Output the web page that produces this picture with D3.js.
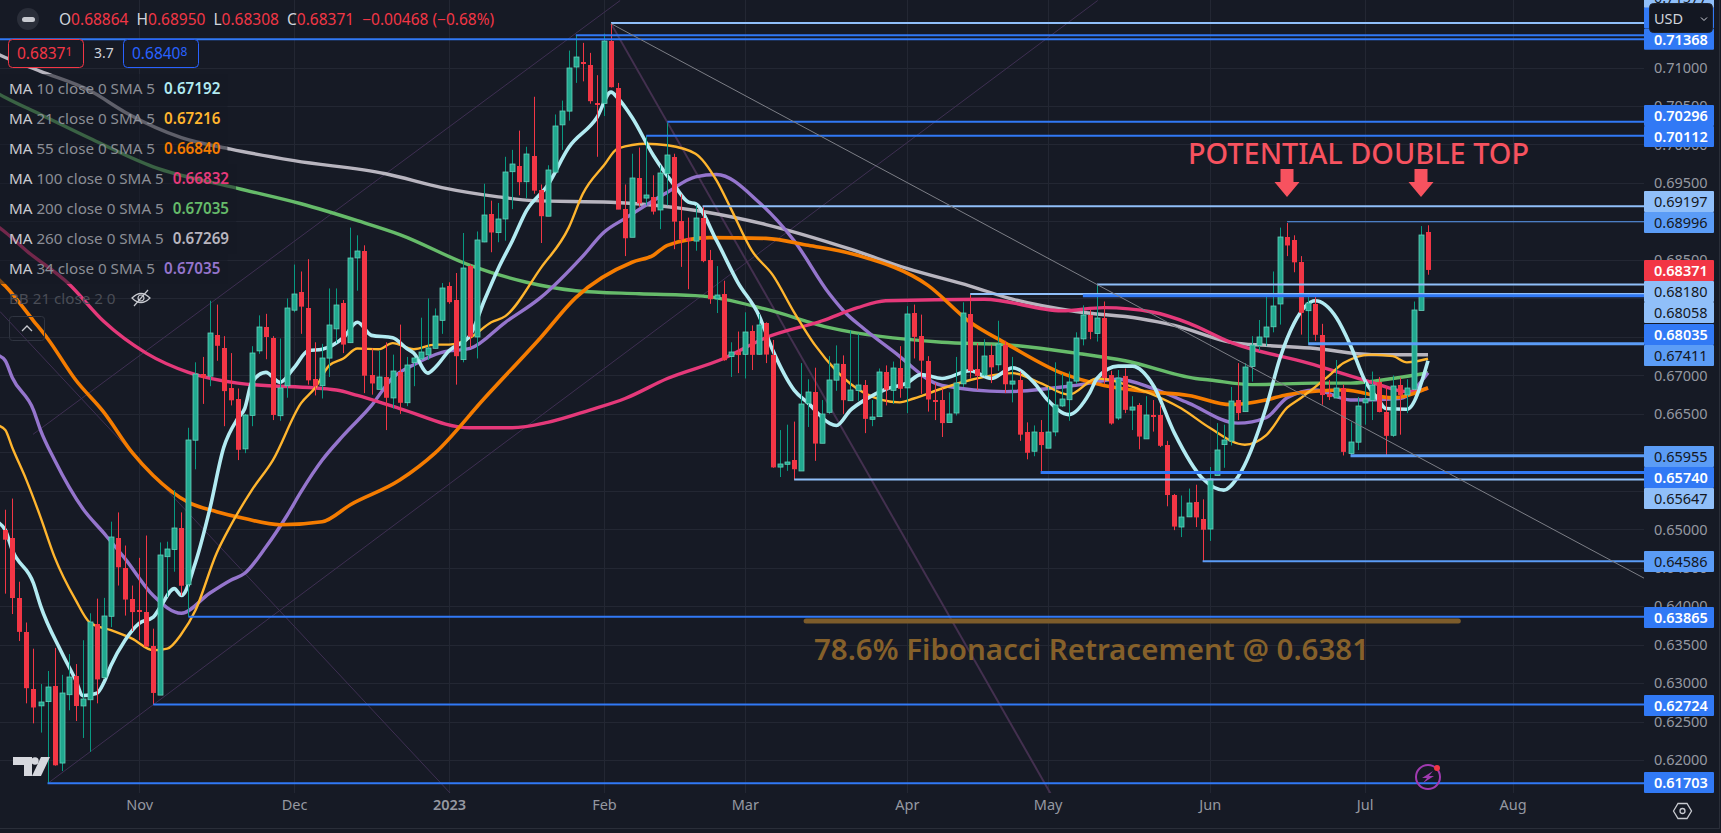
<!DOCTYPE html>
<html>
<head>
<meta charset="utf-8">
<script src="https://cdn.jsdelivr.net/npm/d3@7"></script>
<style>
    html, body { margin: 0; padding: 0; background: #161a25; overflow: hidden; }
    svg { display: block; font-family: "Noto Sans", "Open Sans", sans-serif; }
</style>
</head>
<body>
<svg id="viz1" width="1721" height="833"></svg>
<script>
// daily candles, index 0 = first visible session, index 202 = Jul 14
const candleOpen = [.64996,.6489,.6411,.6367,.6293,.6271,.6276,.6296,.6196,.6285,.6310,.6271,.6279,.6377,.6307,.6387,.6489,.6450,.6410,.6395,.6393,.6348,.6285,.6465,.6474,.6502,.6428,.6616,.6702,.6699,.6752,.6736,.6683,.6670,.6604,.6648,.6732,.6763,.6748,.6648,.6686,.6785,.6809,.6788,.6695,.6686,.6723,.6761,.6794,.6743,.6853,.6861,.6700,.6682,.6698,.6671,.6705,.6664,.6716,.6721,.6726,.6735,.6771,.6816,.6798,.6721,.6842,.6750,.6874,.6910,.68853,.6903,.6965,.6972,.6951,.6985,.6941,.6907,.6964,.7026,.7044,.7100,.7107,.7103,.7054,.7053,.7134,.7074,.6916,.6880,.6957,.6930,.6932,.6915,.6962,.6984,.6901,.6878,.6875,.6905,.6850,.6800,.6806,.6724,.6730,.6727,.6758,.6728,.6768,.6726,.6581,.6584,.6590,.6576,.6663,.6679,.6612,.6652,.6694,.6715,.66675,.6680,.6687,.6643,.6647,.6704,.6681,.6710,.6684,.6781,.6751,.6719,.6668,.6668,.6639,.6651,.6689,.6780,.6708,.6700,.6726,.6714,.6740,.6689,.6694,.6626,.6602,.6626,.6606,.6626,.6661,.6669,.6692,.6748,.6779,.6754,.6775,.6701,.6645,.6699,.6655,.6661,.6618,.6649,.6648,.6609,.6544,.6503,.6516,.6535,.6514,.6501,.6570,.6610,.6615,.6668,.6653,.6711,.6739,.6750,.6763,.6793,.6880,.6876,.6847,.6784,.6793,.6753,.6676,.6671,.6683,.6598,.6613,.6664,.6668,.6691,.6653,.6622,.6687,.6674,.6682,.6785,.68864];
const candleHigh = [.65255,.6540,.6432,.6379,.6345,.6299,.6316,.6346,.6311,.6338,.6325,.6356,.6391,.6410,.6411,.6510,.6522,.6479,.6427,.6463,.6492,.6371,.6483,.6484,.6551,.6522,.6632,.6717,.6724,.6797,.6792,.6751,.6729,.6683,.6650,.6738,.6778,.6780,.6751,.6748,.6800,.6844,.6835,.6851,.6743,.6741,.6813,.6813,.6798,.6892,.6882,.6869,.6735,.6732,.6743,.6727,.6766,.6724,.6724,.6775,.6800,.6787,.6820,.6821,.6833,.6885,.6844,.6887,.6949,.6927,.6924,.6984,.6993,.7018,.6997,.7062,.6948,.6973,.7039,.7057,.7122,.7142,.7132,.7119,.7090,.7144,.7158,.7080,.6948,.6988,.6996,.7011,.6960,.6973,.7028,.6988,.6935,.6905,.6921,.6919,.6863,.6842,.6823,.6743,.6757,.6782,.6765,.6780,.6769,.6746,.6629,.6636,.6640,.6716,.6695,.6710,.6668,.6725,.6739,.6726,.67584,.6754,.6694,.6668,.6709,.6713,.6718,.6738,.6790,.6792,.6779,.6725,.6690,.6683,.6678,.6724,.6795,.6805,.6742,.6747,.6740,.6771,.6745,.6724,.6705,.6639,.6635,.6642,.6685,.6717,.6702,.6705,.6756,.6791,.6785,.6817,.6796,.6706,.6707,.6709,.6673,.6664,.6673,.6668,.6661,.6615,.6546,.6544,.6553,.6558,.6539,.6581,.6638,.6636,.6685,.6716,.6716,.6751,.6772,.6807,.6835,.6892,.6898,.6882,.6855,.6804,.6805,.6767,.6694,.6720,.6688,.6639,.6672,.6691,.6705,.6698,.6685,.6700,.6697,.6695,.6796,.6894,.68950];
const candleLow = [.64165,.6390,.6355,.6274,.6248,.6236,.61703,.6193,.6186,.6265,.6251,.6229,.6211,.6274,.6306,.6373,.6427,.6388,.6368,.6356,.6348,.62724,.6285,.6412,.6445,.6414,.63865,.6578,.6663,.6686,.6719,.6634,.6661,.6590,.6599,.6634,.6728,.6721,.6642,.6641,.6671,.6782,.6754,.6688,.6674,.6670,.6698,.6742,.6729,.6742,.6810,.6677,.6675,.6682,.6629,.6657,.6650,.6660,.6686,.6720,.6720,.6735,.6754,.6793,.6688,.6717,.6736,.6722,.6873,.6860,.6873,.6875,.6916,.6934,.6930,.6936,.6872,.6907,.6964,.6993,.7031,.7080,.7082,.7053,.6984,.7037,.7074,.6916,.6855,.6880,.6919,.6921,.6909,.6890,.6921,.6864,.6841,.6812,.6862,.6847,.6793,.6781,.6719,.6698,.6703,.6696,.6707,.6727,.6716,.6580,.6568,.6576,.65647,.6576,.6633,.6589,.6612,.6650,.6680,.6650,.6667,.6667,.6625,.6634,.6647,.6661,.6663,.6671,.6651,.6722,.6676,.6653,.6642,.6620,.6639,.6648,.6685,.6696,.6681,.6699,.6690,.6706,.6677,.6665,.6615,.6591,.6595,.6574,.6606,.6621,.6659,.6641,.6689,.6739,.6747,.6744,.6689,.6636,.6642,.6651,.6629,.6604,.6618,.6627,.6607,.6530,.6499,.6490,.6516,.6503,.64586,.6485,.6570,.6580,.6609,.6642,.6653,.6692,.6732,.6738,.6756,.6766,.6855,.6834,.6753,.6740,.6745,.6662,.6668,.6671,.6596,.6594,.6603,.6636,.6642,.6652,.65955,.6620,.6623,.6651,.6681,.6785,.68308];
const candleClose = [.6487,.6411,.6367,.6294,.6269,.6276,.6295,.6193,.6287,.6308,.6271,.6280,.6380,.6305,.6387,.6490,.6451,.6409,.6393,.6394,.6348,.6287,.6467,.6475,.6502,.6427,.6616,.6702,.6697,.6755,.6738,.6680,.6667,.6604,.6648,.6729,.6763,.6750,.6648,.6684,.6787,.6806,.6790,.6694,.6686,.6722,.6766,.6792,.6740,.6853,.6862,.6699,.6689,.6698,.6671,.6706,.6665,.6713,.6722,.6730,.6735,.6777,.6813,.6795,.6725,.6840,.6750,.6876,.6909,.6886,.6903,.6964,.6975,.6951,.6987,.6940,.6907,.6967,.7024,.7044,.7100,.7113,.7106,.7056,.7053,.7134,.7074,.6916,.6878,.6957,.6924,.6934,.6913,.6963,.6986,.6900,.6877,.6874,.6905,.6849,.6799,.6805,.6720,.6730,.6726,.6756,.6727,.6766,.6727,.6580,.6585,.6587,.6578,.6663,.6678,.6612,.6650,.6694,.6715,.6668,.66814,.6687,.6643,.6646,.6705,.6681,.6710,.6683,.6780,.6750,.6719,.6669,.6667,.6638,.6650,.6690,.6781,.6706,.6699,.6725,.6710,.6741,.6689,.6693,.6623,.6599,.6627,.6609,.6627,.6661,.6670,.6692,.6748,.6779,.6757,.6774,.6697,.6638,.6697,.6655,.6659,.6620,.6649,.6648,.6608,.6544,.6503,.6516,.6534,.6515,.6500,.6566,.6603,.6616,.6667,.6651,.6711,.6739,.6750,.6763,.6790,.6880,.6869,.6847,.6781,.6794,.6753,.6675,.6672,.6684,.6600,.6613,.6660,.6669,.6688,.6652,.6622,.6686,.6674,.6683,.6785,.6883,.68371];

// moving averages, [candle index, price]
const ma260 = [[-1,.7117],[0,.7113],[5,.7095],[12,.7070],[17,.7042],[25,.7009],[32,.6994],[41,.6979],[54,.6962],[62,.6944],[70,.6932],[75,.6927],[86,.6925],[99,.6913],[108,.6896],[120,.6864],[128,.6839],[137,.6816],[143,.6799],[152,.6783],[161,.6774],[166,.6765],[174,.6743],[179,.6739],[186,.6735],[194,.6727],[202,.67269]];
const ma200 = [[-1,.7066],[0,.7061],[5,.7039],[12,.7008],[21,.6971],[33,.6943],[42,.6923],[50,.6901],[56,.6883],[66,.6843],[74,.6821],[81,.6810],[90,.6806],[99,.6803],[108,.6786],[117,.6762],[133,.6743],[142,.6740],[152,.6729],[159,.6719],[169,.6696],[171,.6694],[177,.6688],[186,.6690],[191,.6690],[197,.6696],[202,.67035]];
const ma100 = [[-1,.6893],[0,.6886],[3,.6862],[9,.6819],[14,.6770],[20,.6729],[26,.6704],[33,.6690],[47,.6681],[50,.6674],[56,.6657],[66,.6632],[72,.6632],[77,.6639],[83,.6655],[88,.6670],[94,.6696],[102,.6722],[108,.6749],[116,.6771],[121,.6788],[125,.6797],[139,.6799],[150,.6784],[156,.6788],[163,.6782],[168,.6768],[174,.6743],[185,.6716],[194,.6691],[199,.6679],[202,.66832]];
const ma55 = [[-1,.6825],[0,.6816],[4,.6771],[6,.6748],[10,.6694],[14,.6652],[18,.6600],[21,.6570],[26,.6535],[30,.6523],[34,.6514],[39,.6506],[45,.6510],[49,.6532],[56,.6564],[61,.6599],[68,.6670],[76,.6749],[81,.6801],[89,.6847],[92,.6856],[94,.6869],[100,.6879],[108,.6878],[114,.6869],[121,.6856],[131,.6817],[137,.6769],[142,.6742],[150,.6703],[156,.6687],[162,.6679],[168,.6674],[174,.6662],[179,.6668],[182,.6675],[190,.6681],[197,.6671],[202,.6684]];
const ma34 = [[-1,.6726],[0,.6719],[1,.6697],[4,.6655],[5,.6629],[7,.6590],[11,.6527],[14,.6495],[17,.6462],[21,.6414],[25,.6391],[29,.6417],[32,.6434],[34,.6443],[37,.6477],[40,.6518],[42,.6549],[45,.6590],[48,.6622],[52,.6661],[55,.6697],[58,.6714],[62,.6730],[66,.6735],[71,.6769],[76,.6801],[82,.6855],[85,.6886],[88,.6904],[94,.6938],[98,.6958],[101,.6961],[107,.6925],[112,.6875],[117,.6806],[119,.6784],[122,.6760],[126,.6732],[133,.6687],[142,.6679],[152,.6687],[158,.6695],[163,.6683],[168,.6664],[175,.6638],[179,.6645],[182,.6671],[186,.6681],[191,.6668],[198,.6670],[202,.67035]];
const ma21 = [[-1,.6635],[0,.6629],[1,.6606],[3,.6564],[5,.6516],[7,.6464],[10,.6408],[12,.6379],[15,.6369],[18,.6358],[21,.6343],[23,.6345],[25,.6364],[27,.6395],[30,.6469],[32,.6505],[35,.6551],[38,.6590],[42,.6664],[44,.6684],[46,.6713],[48,.6722],[50,.6735],[53,.6734],[55,.6742],[58,.6734],[61,.6740],[63,.6740],[66,.6749],[69,.6769],[71,.6777],[76,.6839],[80,.6892],[82,.6936],[85,.6973],[87,.6995],[91,.7001],[94,.6999],[98,.6988],[101,.6953],[103,.6917],[106,.6862],[109,.6830],[112,.6782],[115,.6739],[118,.6706],[122,.6677],[127,.6665],[129,.6670],[133,.6683],[137,.6694],[143,.6703],[147,.6690],[151,.6675],[155,.6696],[161,.6682],[167,.6657],[171,.6632],[176,.6610],[179,.6622],[182,.6658],[184,.6671],[188,.6700],[190,.6716],[194,.6727],[197,.6725],[199,.6717],[202,.67216]];
const ma10 = [[-1,.6509],[0,.6499],[1,.6473],[4,.6430],[5,.6401],[8,.6340],[10,.6304],[11,.6284],[13,.6287],[14,.6301],[15,.6323],[17,.6356],[19,.6378],[21,.6386],[22,.6399],[24,.6423],[25,.6414],[27,.6457],[29,.6525],[31,.6606],[33,.6644],[34,.6657],[35,.6691],[37,.6704],[39,.6691],[41,.6710],[43,.6732],[45,.6734],[48,.6749],[50,.6769],[52,.6752],[55,.6749],[57,.6735],[58,.6729],[60,.6703],[61,.6710],[63,.6732],[66,.6752],[68,.6797],[70,.6839],[72,.6875],[74,.6914],[77,.6947],[80,.6996],[84,.7035],[86,.7068],[87,.7060],[89,.7035],[92,.6986],[95,.6947],[97,.6925],[98,.6923],[101,.6875],[104,.6821],[107,.6778],[109,.6732],[112,.6681],[114,.6664],[117,.6638],[118,.6635],[120,.6655],[122,.6668],[125,.6682],[128,.6690],[130,.6701],[133,.6696],[137,.6706],[140,.6696],[142,.6706],[143,.6710],[146,.6691],[148,.6668],[151,.6649],[154,.6678],[155,.6696],[158,.6712],[160,.6712],[163,.6687],[166,.6625],[170,.6566],[173,.6551],[175,.6568],[179,.6658],[181,.6723],[183,.6768],[186,.6797],[189,.6775],[191,.6739],[193,.6694],[195,.6668],[196,.6657],[199,.6656],[202,.67192]];

// legend rows
const maNames = ["10", "21", "55", "100", "200", "260", "34"];
const maValues = ["0.67192", "0.67216", "0.66840", "0.66832", "0.67035", "0.67269", "0.67035"];
const maColors = ["#b2ebf2", "#ffb52e", "#f57c00", "#e5397a", "#66bb6a", "#b8b5bf", "#9575cd"];

// axis, gridlines use all the ticks, labels skip the ones fully under a price tag
const priceTicks = [.62,.625,.63,.635,.64,.645,.65,.655,.66,.665,.67,.675,.68,.685,.69,.695,.70,.705,.71];
const priceLabels = [.62,.625,.63,.635,.64,.645,.65,.665,.67,.685,.695,.70,.705,.71];
const monthIdx = [19, 41, 63, 85, 105, 128, 148, 171, 193, 214];
const monthLabels = ["Nov", "Dec", "2023", "Feb", "Mar", "Apr", "May", "Jun", "Jul", "Aug"];

// horizontal levels: price, first candle, kind (0 strong, 1 medium, 2 light), thickness
const levelPrices = [.71577,.7142,.71368,.70296,.70112,.69197,.68996,.6818,.68058,.68035,.67411,.65955,.6574,.65647,.64586,.63865,.62724,.61703];
const levelStart = [86,81,-1,94,91,99,182,155,137,153,185,191,147,112,170,26,21,6];
const levelKind = [2,0,0,0,0,2,1,2,2,0,1,1,0,2,1,0,0,0];
const levelThick = [2,2,2,2,2,2,1,2,2,3,3,3,3,2,2,2,2,2];

// price tags on the right scale, tag centre sits off the line where the labels collide
const tagText = ["0.71577","","0.71368","0.70296","0.70112","0.69197","0.68996","0.68371","0.68180","0.68058","0.68035","0.67411","0.65955","0.65740","0.65647","0.64586","0.63865","0.62724","0.61703"];
const tagKind = [2,0,0,0,0,2,1,3,2,2,0,1,1,0,2,1,0,0,0];
const tagNudgedPrice = [.71909,.71643,.71368,.70376,.70103,.69259,.68986,.68363,.6809,.67817,.67531,.67259,.65946,.65674,.65401,.64583,.63855,.62712,.61712];

// trend lines: i1, p1, i2, p2
const purpleLines = [[6.07,.61703,155.1,.7187],[3.93,.66234,87.3,.7187],[-.75,.6783,63.2,.6157]];
const steepLine = [86,.7157,148.4,.6157];
const greyLine = [86,.7157,232.8,.6436];

const bg = "#161a25";
const grid = "#232733";
const kindFill = ["#3179f5", "#5b9cf6", "#90bff9", "#f23645"];
const kindText = ["#ffffff", "#131722", "#131722", "#ffffff"];
const red = "#f23645";
const coral = "#f7525f";

const svg = d3.select("#viz1");

const xScale = d3.scaleLinear().domain([0, 202]).range([5.3, 1428]);
const yScale = d3.scaleLinear().domain([.62, .71]).range([760.3, 67.5]);
const plotRight = 1644;
const plotBottom = 793;

function px(v) { return Math.round(v); }

function drawChart() {
    svg.append("rect").attr("width", 1721).attr("height", 833).attr("fill", bg);

    svg.append("clipPath").attr("id", "plot").append("rect")
        .attr("width", plotRight).attr("height", plotBottom);

    let plot = svg.append("g").attr("clip-path", "url(#plot)");

    //grid
    plot.selectAll(".hgrid").data(priceTicks).enter().append("line")
        .attr("x1", 0).attr("x2", plotRight)
        .attr("y1", d => px(yScale(d)) + .5).attr("y2", d => px(yScale(d)) + .5)
        .attr("stroke", grid);
    plot.selectAll(".vgrid").data(monthIdx).enter().append("line")
        .attr("x1", d => px(xScale(d)) + .5).attr("x2", d => px(xScale(d)) + .5)
        .attr("y1", 0).attr("y2", plotBottom)
        .attr("stroke", grid);

    //faint drawings below everything
    plot.selectAll(".trend").data(purpleLines).enter().append("line")
        .attr("x1", d => xScale(d[0])).attr("y1", d => yScale(d[1]))
        .attr("x2", d => xScale(d[2])).attr("y2", d => yScale(d[3]))
        .attr("stroke", "#3e2f52").attr("stroke-width", 1);
    plot.append("line")
        .attr("x1", xScale(steepLine[0])).attr("y1", yScale(steepLine[1]))
        .attr("x2", xScale(steepLine[2])).attr("y2", yScale(steepLine[3]))
        .attr("stroke", "#43304f").attr("stroke-width", 2);

    //moving averages
    let line = d3.line()
        .x(d => xScale(d[0]))
        .y(d => yScale(d[1]))
        .curve(d3.curveMonotoneX);

    let maLayers = [[ma260, 5, 3.4], [ma200, 4, 3.4], [ma34, 6, 3.4], [ma100, 3, 3.4], [ma55, 2, 3.6], [ma21, 1, 2.4], [ma10, 0, 3.6]];
    plot.selectAll(".ma").data(maLayers).enter().append("path")
        .attr("d", d => line(d[0]))
        .attr("fill", "none")
        .attr("stroke", d => maColors[d[1]])
        .attr("stroke-width", d => d[2])
        .attr("stroke-linejoin", "round");

    //candles
    let candles = plot.selectAll(".candle").data(candleOpen).enter().append("g");

    candles.append("line")
        .attr("x1", (d, i) => px(xScale(i)) + .5)
        .attr("x2", (d, i) => px(xScale(i)) + .5)
        .attr("y1", (d, i) => yScale(candleHigh[i]))
        .attr("y2", (d, i) => yScale(candleLow[i]))
        .attr("stroke", (d, i) => candleClose[i] >= d ? "#089981" : red);

    candles.append("rect")
        .attr("x", (d, i) => px(xScale(i)) - 2)
        .attr("width", 5)
        .attr("y", (d, i) => px(yScale(Math.max(d, candleClose[i]))))
        .attr("height", (d, i) => Math.max(2, Math.abs(yScale(d) - yScale(candleClose[i]))))
        .attr("fill", (d, i) => candleClose[i] >= d ? "#21a88f" : red)
        .attr("stroke", (d, i) => candleClose[i] >= d ? "#66d1bb" : "none")
        .attr("stroke-width", .8);

    //levels on top of the candles
    plot.selectAll(".level").data(levelPrices).enter().append("line")
        .attr("x1", (d, i) => xScale(levelStart[i]))
        .attr("x2", plotRight)
        .attr("y1", d => yScale(d))
        .attr("y2", d => yScale(d))
        .attr("stroke", (d, i) => kindFill[levelKind[i]])
        .attr("stroke-width", (d, i) => levelThick[i]);

    plot.append("line")
        .attr("x1", xScale(greyLine[0])).attr("y1", yScale(greyLine[1]))
        .attr("x2", xScale(greyLine[2])).attr("y2", yScale(greyLine[3]))
        .attr("stroke", "#7c7e86").attr("stroke-width", 1);

    //fibonacci bar
    plot.append("line")
        .attr("x1", xScale(113.7)).attr("x2", xScale(206.3))
        .attr("y1", yScale(.6381)).attr("y2", yScale(.6381))
        .attr("stroke", "#7d5c2b").attr("stroke-width", 5).attr("stroke-linecap", "round");

    svg.append("text")
        .attr("x", 814).attr("y", 660)
        .attr("font-size", 29).attr("font-weight", 600)
        .attr("fill", "#85602a")
        .attr("textLength", 555).attr("lengthAdjust", "spacingAndGlyphs")
        .text("78.6% Fibonacci Retracement @ 0.6381");

    svg.append("text")
        .attr("x", 1188).attr("y", 164)
        .attr("font-size", 29).attr("font-weight", 500)
        .attr("fill", coral)
        .attr("textLength", 341).attr("lengthAdjust", "spacingAndGlyphs")
        .text("POTENTIAL DOUBLE TOP");

    [1287, 1421].forEach(function (cx) {
        svg.append("path")
            .attr("d", `M${cx - 6.5},169 h13 v13 h6 l-12.5,15 l-12.5,-15 h6 z`)
            .attr("fill", coral);
    });

    drawAxes();
    drawTags();
    drawLegend();
    drawIcons();
}

function drawAxes() {
    let yAxis = d3.axisRight(yScale)
        .tickValues(priceLabels)
        .tickFormat(d3.format(".5f"))
        .tickSize(0)
        .tickPadding(0);

    let yg = svg.append("g").attr("transform", "translate(1654,0)").call(yAxis);
    yg.select(".domain").remove();
    yg.selectAll("text")
        .attr("fill", "#9598a1").attr("font-size", 14.5)
        .attr("font-family", '"Noto Sans", sans-serif');

    let xAxis = d3.axisBottom(xScale)
        .tickValues(monthIdx)
        .tickFormat((d, i) => monthLabels[i])
        .tickSize(0)
        .tickPadding(0);

    let xg = svg.append("g").attr("transform", "translate(0,800)").call(xAxis);
    xg.select(".domain").remove();
    xg.selectAll("text")
        .attr("fill", "#9598a1").attr("font-size", 14.5)
        .attr("font-family", '"Noto Sans", sans-serif')
        .attr("font-weight", (d, i) => monthLabels[i] === "2023" ? 600 : 400);

    svg.append("line").attr("x1", 0).attr("x2", 1719).attr("y1", 828.5).attr("y2", 828.5).attr("stroke", "#2a2e39");
    svg.append("line").attr("x1", 1719.5).attr("x2", 1719.5).attr("y1", 0).attr("y2", 829).attr("stroke", "#2a2e39");
}

function drawTags() {
    let tags = svg.selectAll(".tag").data(tagText).enter().append("g");

    tags.append("rect")
        .attr("x", plotRight).attr("width", 70).attr("height", 21)
        .attr("y", (d, i) => yScale(tagNudgedPrice[i]) - 10.5)
        .attr("rx", 1)
        .attr("fill", (d, i) => kindFill[tagKind[i]]);

    tags.append("text")
        .attr("x", 1654)
        .attr("y", (d, i) => yScale(tagNudgedPrice[i]) + 5.5)
        .attr("font-size", 14.5)
        .attr("font-weight", (d, i) => tagKind[i] === 0 || tagKind[i] === 3 ? 600 : 400)
        .attr("fill", (d, i) => kindText[tagKind[i]])
        .text(d => d);

    //currency button
    svg.append("rect").attr("x", 1649.5).attr("y", 3.5).attr("width", 63).attr("height", 29)
        .attr("rx", 4).attr("fill", "#131722").attr("stroke", "#1f2430");
    svg.append("text").attr("x", 1654).attr("y", 24).attr("font-size", 14.5)
        .attr("fill", "#d1d4dc").text("USD");
    svg.append("path").attr("d", "M1701,17.5 l3,3 l3,-3").attr("fill", "none").attr("stroke", "#d1d4dc");
}

function drawLegend() {
    //top line
    let ohlc = svg.append("text").attr("x", 59).attr("y", 25).attr("font-size", 15.5).attr("fill", red);
    let parts = [["O", "#d1d4dc"], ["0.68864  ", red], ["H", "#d1d4dc"], ["0.68950  ", red],
        ["L", "#d1d4dc"], ["0.68308  ", red], ["C", "#d1d4dc"], ["0.68371  \u22120.00468 (\u22120.68%)", red]];
    ohlc.attr("xml:space", "preserve").style("white-space", "pre");
    parts.forEach(p => ohlc.append("tspan").attr("fill", p[1]).text(p[0]));

    svg.append("circle").attr("cx", 28).attr("cy", 19).attr("r", 11).attr("fill", "#2a2e39");
    svg.append("rect").attr("x", 22).attr("y", 17).attr("width", 13).attr("height", 5).attr("rx", 2.5).attr("fill", "#c8cad0");

    //bid / ask boxes
    let boxes = [[8, 75, "0.6837", "1", red], [123, 75, "0.6840", "8", "#2962ff"]];
    boxes.forEach(function (b) {
        svg.append("rect").attr("x", b[0] + .5).attr("y", 39.5).attr("width", b[1]).attr("height", 28)
            .attr("rx", 4).attr("fill", bg).attr("stroke", b[4]);
        let t = svg.append("text").attr("x", b[0] + 9).attr("y", 59).attr("font-size", 15.5).attr("fill", b[4]);
        t.append("tspan").text(b[2]);
        t.append("tspan").attr("font-size", 12).attr("dy", -3).text(b[3]);
    });
    svg.append("text").attr("x", 94).attr("y", 58).attr("font-size", 14).attr("fill", "#d1d4dc").text("3.7");

    //MA rows, band behind each row dims whatever runs under it
    let rows = svg.selectAll(".row").data(maNames).enter().append("g")
        .attr("transform", (d, i) => `translate(9,${94 + i * 30})`);

    let bands = rows.append("rect").attr("x", -9).attr("y", -20).attr("height", 30).attr("fill", bg).attr("opacity", .55);

    let labels = rows.append("text").attr("font-size", 15.2).attr("fill", "#8b8e96");
    labels.append("tspan").attr("fill", "#c8cad0").text("MA");
    labels.append("tspan").text(d => ` ${d} close 0 SMA 5`);
    labels.append("tspan").attr("dx", 9).attr("font-weight", 600).attr("fill", (d, i) => maColors[i]).text((d, i) => maValues[i]);

    bands.attr("width", function (d, i) { return labels.nodes()[i].getComputedTextLength() + 25; });

    let bb = svg.append("text").attr("x", 9).attr("y", 304).attr("font-size", 15.2).attr("fill", "#4a4d56");
    bb.append("tspan").text("BB 21 close 2 0");

    //crossed eye
    let eye = svg.append("g").attr("transform", "translate(141,298)").attr("fill", "none").attr("stroke", "#c8cad0").attr("stroke-width", 1.2);
    eye.append("path").attr("d", "M-9,0 Q0,-9 9,0 Q0,9 -9,0 Z");
    eye.append("circle").attr("r", 3);
    eye.append("line").attr("x1", -7).attr("y1", 8).attr("x2", 7).attr("y2", -8);

    //collapse button
    svg.append("rect").attr("x", 9.5).attr("y", 316.5).attr("width", 35).attr("height", 24).attr("rx", 3)
        .attr("fill", "none").attr("stroke", "#2f3440");
    svg.append("path").attr("d", "M22,331 l5,-5 l5,5").attr("fill", "none").attr("stroke", "#c8cad0").attr("stroke-width", 1.3);
}

function drawIcons() {
    //logo
    svg.append("path").attr("d", "M13,757 h19 v19 h-8 v-11 h-11 z").attr("fill", "#d6d8de");
    svg.append("circle").attr("cx", 35).attr("cy", 761).attr("r", 3.7).attr("fill", "#d6d8de");
    svg.append("path").attr("d", "M41,757 h9 l-9,19 h-9 z").attr("fill", "#d6d8de");

    //lightning
    svg.append("circle").attr("cx", 1428).attr("cy", 777).attr("r", 12).attr("fill", "none").attr("stroke", "#a03ab0").attr("stroke-width", 2);
    svg.append("path").attr("d", "M1433,771 l-11,7 h5 l-4,5 l11,-7 h-5 z").attr("fill", "#a03ab0");
    svg.append("circle").attr("cx", 1437).attr("cy", 768).attr("r", 3).attr("fill", red);

    //settings
    svg.append("path").attr("d", "M1673.5,811 l4.5,-7.5 h9 l4.5,7.5 l-4.5,7.5 h-9 z").attr("fill", "none").attr("stroke", "#c8cad0").attr("stroke-width", 1.3);
    svg.append("circle").attr("cx", 1682.5).attr("cy", 811).attr("r", 2.5).attr("fill", "none").attr("stroke", "#c8cad0").attr("stroke-width", 1.3);
}

drawChart();
</script>
</body>
</html>
